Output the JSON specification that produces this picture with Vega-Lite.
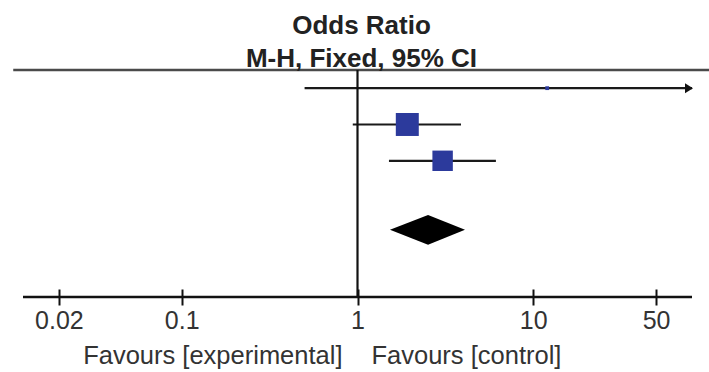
{
  "$schema": "https://vega.github.io/schema/vega-lite/v6.json",
  "width": 669,
  "height": 227,
  "autosize": {"type": "none"},
  "padding": {"left": 23, "right": 17, "top": 70, "bottom": 75},
  "background": "white",
  "config": {"view": {"stroke": null}, "font": "Liberation Sans"},
  "title": {
    "text": ["Odds Ratio", "M-H, Fixed, 95% CI"],
    "font": "Liberation Sans",
    "fontSize": 26,
    "fontWeight": "bold",
    "color": "#222222",
    "lineHeight": 33,
    "anchor": "middle",
    "offset": -3,
    "dx": 4
  },
  "datasets": {
    "studies": [
      {"study": "Study 1", "or": 12.0, "lower": 0.5, "upper": 288, "weight": 1.5, "row": 1},
      {"study": "Study 2", "or": 1.92, "lower": 0.94, "upper": 3.88, "weight": 55.0, "row": 2},
      {"study": "Study 3", "or": 3.05, "lower": 1.51, "upper": 6.13, "weight": 43.5, "row": 3}
    ],
    "total": [
      {"x": 1.53, "top": 4.9, "bottom": 4.9},
      {"x": 2.52, "top": 4.49, "bottom": 5.31},
      {"x": 4.09, "top": 4.9, "bottom": 4.9}
    ]
  },
  "layer": [
    {
      "data": {"name": "studies"},
      "mark": {"type": "rule", "color": "#1a1a1a", "strokeWidth": 2.2, "clip": true},
      "encoding": {
        "x": {
          "field": "lower", "type": "quantitative", "title": null,
          "scale": {"type": "log", "domain": [0.0125, 80], "nice": false},
          "axis": {
            "values": [0.02, 0.1, 1, 10, 50],
            "format": "~g",
            "domain": false,
            "grid": false,
            "offset": -8,
            "tickSize": 16,
            "tickWidth": 2,
            "tickColor": "#111111",
            "labelFont": "Liberation Sans",
            "labelFontSize": 25,
            "labelColor": "#333333",
            "labelPadding": 3,
            "labelFlush": false,
            "labelOverlap": false
          }
        },
        "x2": {"field": "upper"},
        "y": {"field": "row", "type": "quantitative", "axis": null, "scale": {"domain": [0.5, 6.75], "reverse": true, "nice": false, "zero": false}}
      }
    },
    {
      "data": {"values": [{}]},
      "mark": {"type": "rule", "color": "#4a4a4a", "strokeWidth": 2.5},
      "encoding": {
        "x": {"datum": 0.011, "type": "quantitative", "title": null},
        "x2": {"datum": 100},
        "y": {"datum": 0.5, "type": "quantitative", "axis": null}
      }
    },
    {
      "data": {"values": [{}]},
      "mark": {"type": "rule", "color": "#111111", "strokeWidth": 2.2},
      "encoding": {
        "x": {"datum": 1, "type": "quantitative", "title": null},
        "y": {"datum": 0.5, "type": "quantitative", "axis": null},
        "y2": {"datum": 6.75}
      }
    },
    {
      "data": {"values": [{}]},
      "mark": {"type": "rule", "color": "#111111", "strokeWidth": 2.5},
      "encoding": {
        "x": {"datum": 0.0125, "type": "quantitative", "title": null},
        "x2": {"datum": 80},
        "y": {"datum": 6.75, "type": "quantitative", "axis": null}
      }
    },
    {
      "data": {"name": "studies"},
      "mark": {"type": "point", "shape": "square", "filled": true, "color": "#2c3a9c", "opacity": 1, "strokeWidth": 0},
      "encoding": {
        "x": {"field": "or", "type": "quantitative", "title": null},
        "y": {"field": "row", "type": "quantitative", "axis": null},
        "size": {"field": "weight", "type": "quantitative", "legend": null, "scale": {"domain": [0, 100], "range": [0, 960]}}
      }
    },
    {
      "data": {"name": "studies"},
      "transform": [{"filter": "datum.upper > 80"}],
      "mark": {"type": "point", "shape": "M-1,-1.25L1,0L-1,1.25Z", "filled": true, "color": "#111111", "opacity": 1, "size": 64, "xOffset": -3},
      "encoding": {
        "x": {"datum": 80, "type": "quantitative", "title": null},
        "y": {"field": "row", "type": "quantitative", "axis": null}
      }
    },
    {
      "data": {"name": "total"},
      "mark": {"type": "area", "color": "#000000", "opacity": 1},
      "encoding": {
        "x": {"field": "x", "type": "quantitative", "title": null},
        "y": {"field": "top", "type": "quantitative", "axis": null},
        "y2": {"field": "bottom"}
      }
    },
    {
      "data": {"values": [{"label": "Favours [experimental]"}]},
      "mark": {"type": "text", "align": "right", "baseline": "alphabetic", "dx": -15, "fontSize": 25.5, "font": "Liberation Sans", "color": "#333333", "clip": false},
      "encoding": {
        "x": {"datum": 1, "type": "quantitative", "title": null},
        "y": {"datum": 8.6, "type": "quantitative", "axis": null},
        "text": {"field": "label"}
      }
    },
    {
      "data": {"values": [{"label": "Favours [control]"}]},
      "mark": {"type": "text", "align": "left", "baseline": "alphabetic", "dx": 14, "fontSize": 25.5, "font": "Liberation Sans", "color": "#333333", "clip": false},
      "encoding": {
        "x": {"datum": 1, "type": "quantitative", "title": null},
        "y": {"datum": 8.6, "type": "quantitative", "axis": null},
        "text": {"field": "label"}
      }
    }
  ]
}
